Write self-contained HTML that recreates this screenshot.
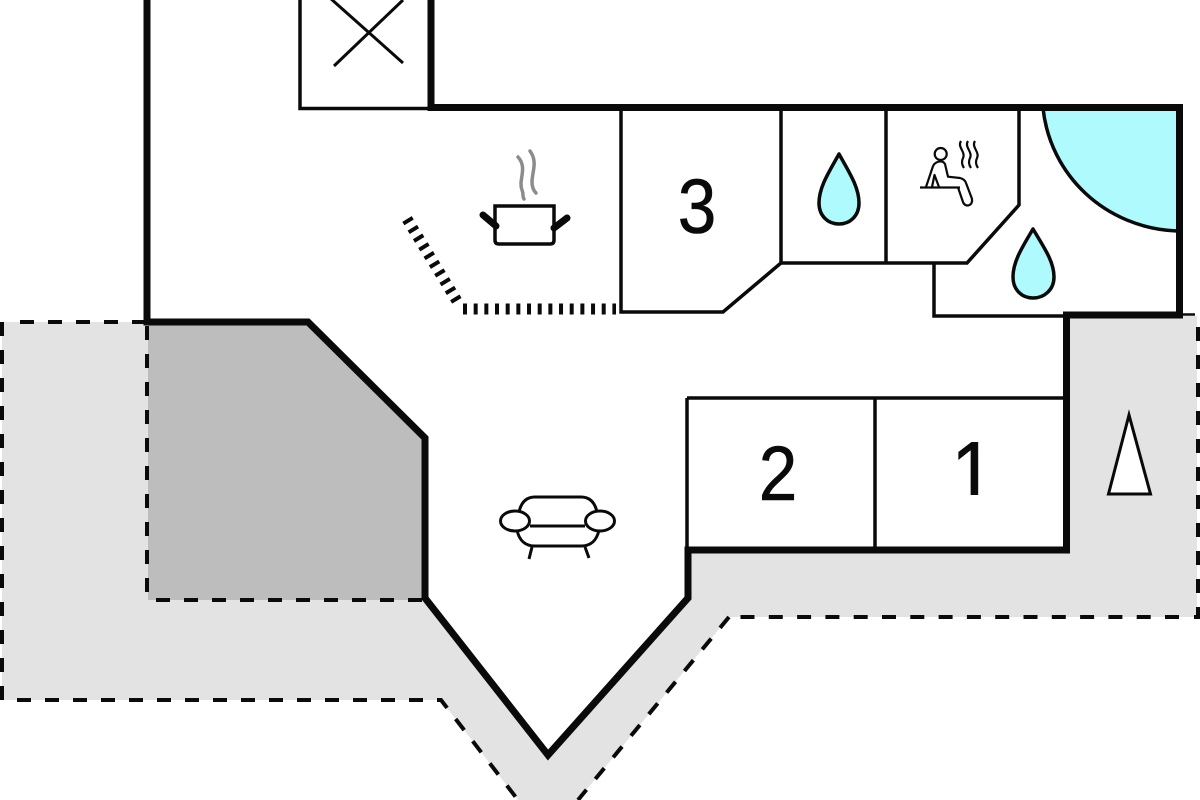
<!DOCTYPE html>
<html><head><meta charset="utf-8"><style>html,body{margin:0;padding:0;background:#fff}svg{display:block}text{font-family:"Liberation Sans",sans-serif;font-size:77px;fill:#0a0a0a;stroke:#0a0a0a;stroke-width:.6px;text-anchor:middle}</style></head>
<body>
<svg width="1200" height="800" viewBox="0 0 1200 800" xmlns="http://www.w3.org/2000/svg">
<defs><clipPath id="c1" clipPathUnits="userSpaceOnUse"><rect x="940" y="430" width="60" height="65"/></clipPath></defs>
<rect width="1200" height="800" fill="#fff"/>
<!-- terrace -->
<polygon points="2,322 148,322 308,322 425,438 425,598 548,755 688,598 688,550 1066,550 1066,316 1197,316 1197,617 729,617 578,800 518,800 441,700 2,700" fill="#e3e3e3"/>
<polygon points="148,322 308,322 425,438 425,600 148,600" fill="#bdbdbd"/>
<g fill="none" stroke="#0a0a0a" stroke-width="4" stroke-dasharray="14 14">
<path d="M146,322 H6"/>
<path d="M2,322 V700"/>
<path d="M17,700 H441 L518,800"/>
<path d="M147,326 V600"/>
<path d="M156,600 H425"/>
<path d="M1198,327 V617 H1192"/>
<path d="M1179,617 H729" stroke-dasharray="14 14.300"/>
<path d="M729,617 L578,800"/>
</g>
<!-- blue -->
<path d="M1043,108 C1050,175 1105,228 1177,231 V108 Z" fill="#aefafd"/>
<path d="M1043,108 C1050,175 1105,228 1177,231" fill="none" stroke="#0a0a0a" stroke-width="3.500"/>
<!-- thin walls -->
<g fill="none" stroke="#0a0a0a" stroke-width="3.500">
<path d="M300,0 V108.500 H431"/>
<path d="M621,108 V312 H723 L781,263 V108"/>
<path d="M781,263 H967 L1019,205 V108"/>
<path d="M886,108 V263"/>
<path d="M934,263 V316 H1066"/>
<path d="M1180,314.500 H1195" stroke-width="2.500"/>
<path d="M687,398 H1066 M687,398 V550 M875,398 V550"/>
<path d="M334,66 L403,0 M330,-2 L403,63" stroke-width="3"/>
</g>
<!-- outer walls -->
<path d="M147,0 V322 H308 L425,438 V598 L548,755 L688,598 V550 H1066.500 V315 H1179.500 V107.500 H431 V0" fill="none" stroke="#0a0a0a" stroke-width="7" stroke-linejoin="miter"/>
<!-- drops -->
<path d="M839,154 C829,172 819,187 819,203 C819,216 828,224 839,224 C850,224 859,216 859,203 C859,187 849,172 839,154 Z" fill="#aefafd" stroke="#0a0a0a" stroke-width="3.500" stroke-linejoin="round"/>
<path d="M1033,229 C1023,246 1013,261 1013,277 C1013,290 1022,298 1033,298 C1044,298 1054,290 1054,277 C1054,261 1043,246 1033,229 Z" fill="#aefafd" stroke="#0a0a0a" stroke-width="3.500" stroke-linejoin="round"/>
<!-- numbers -->
<text transform="translate(697,233) scale(.9,1)">3</text>
<text transform="translate(778,500) scale(.9,1)">2</text>
<g clip-path="url(#c1)"><text transform="translate(973,503) scale(.9,1)" style="font-size:88px">1</text></g>
<!-- pot -->
<path d="M495,206 H554 V240 Q554,244 550,244 H499 Q495,244 495,240 Z" fill="#fff" stroke="#0a0a0a" stroke-width="3.500"/>
<path d="M483,215 L496,226 M567,218 L554,228" fill="none" stroke="#0a0a0a" stroke-width="7" stroke-linecap="round"/>
<path d="M518,157 C528,168 518,180 522,190 C524,195 522,196 524,199 M530,151 C538,162 532,172 532,182 C532,188 534,191 536,193" fill="none" stroke="#8c8c8c" stroke-width="3.500" stroke-linecap="round"/>
<!-- hatch -->
<path d="M463,309 H616" fill="none" stroke="#0a0a0a" stroke-width="11" stroke-dasharray="4 6.670"/>
<path d="M407,219 L460,306" fill="none" stroke="#0a0a0a" stroke-width="11" stroke-dasharray="4 6.200"/>
<!-- sofa -->
<g fill="none" stroke="#0a0a0a" stroke-width="3">
<path d="M519,512 C521,503 526,497 535,497 H581 C590,497 595,503 597,512"/>
<path d="M530,526 H585"/>
<path d="M517,530 C519,540 525,546 535,546 H581 C591,546 597,540 599,530"/>
<path d="M532,547 L529,559 M585,547 L589,558"/>
<ellipse cx="515" cy="521" rx="14.500" ry="10"/>
<ellipse cx="600" cy="521" rx="14.500" ry="10"/>
</g>
<!-- sauna -->
<g fill="none" stroke="#0a0a0a" stroke-width="2.200" stroke-linejoin="round">
<circle cx="940.700" cy="154" r="6"/>
<path d="M920,187.500 H960"/>
<path d="M926,187 L932.700,167 C934,162 942,159 945,164 L948,176.700 L960,178 C963,179 965,180 966,183 L971.700,198 C974,206 965,208 963,202 L958,187.500"/>
<path d="M932,187 L934.500,175 L939,187"/>
<path d="M961,141 C957,147 966,152 963,158 C961,162 962,165 964,168 M968,141 C964,147 973,152 970,158 C968,162 969,165 971,168 M975,141 C971,147 980,152 977,158 C975,162 976,165 978,168"/>
</g>
<!-- north -->
<polygon points="1129,415 1108.500,494 1150.500,494" fill="#fff" stroke="#0a0a0a" stroke-width="3"/>
</svg>
</body></html>
